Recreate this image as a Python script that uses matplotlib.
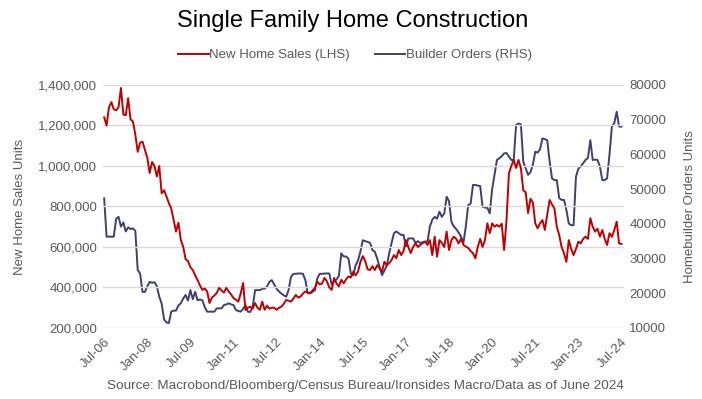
import matplotlib
matplotlib.use("Agg")
import matplotlib.pyplot as plt
from matplotlib.ticker import FuncFormatter, FixedLocator

plt.rcParams['font.family'] = ['Liberation Sans', 'DejaVu Sans']

# Months since Jul-2006 (monthly data)
months = list(range(0, 217))

# New Home Sales (LHS), thousands of units
sales_k = [
    1240, 1200, 1290, 1315, 1280, 1275, 1290, 1385, 1255, 1250, 1335, 1230,
    1220, 1155, 1070, 1115, 1120, 1080, 1040, 965, 1020, 1000, 948, 1000,
    865, 880, 850, 817, 790, 733, 676, 720, 635, 600, 540, 530,
    500, 486, 460, 437, 410, 388, 395, 380, 323, 350, 360, 373,
    398, 385, 375, 398, 380, 365, 348, 340, 330, 370, 422, 289,
    300, 305, 295, 323, 300, 290, 330, 290, 310, 295, 300, 300,
    290, 300, 305, 320, 338, 335, 330, 345, 363, 350, 355, 370,
    380, 375, 372, 385, 397, 429, 415, 420, 447, 430, 400, 388,
    447, 420, 405, 438, 420, 440, 454, 450, 478, 460, 478, 527,
    555, 530, 490, 486, 505, 486, 510, 495, 478, 527, 510, 520,
    536, 560, 545, 585, 560, 580, 634, 600, 570, 600, 618, 600,
    610, 620, 626, 610, 634, 560, 651, 552, 634, 620, 600, 676,
    585, 634, 651, 640, 618, 640, 610, 602, 595, 580, 569, 544,
    600, 640, 600, 634, 717, 668, 717, 700, 709, 700, 715, 585,
    733, 964, 1000, 1030, 990, 1030, 990, 880, 870, 767, 838, 820,
    717, 692, 717, 733, 684, 760, 832, 810, 790, 700, 659, 600,
    569, 527, 634, 590, 560, 590, 626, 618, 640, 651, 640, 742,
    700, 676, 690, 651, 684, 640, 610, 668, 650, 684, 725, 618,
    615,
]

# Builder Orders (RHS), units
orders = [
    47350, 36300, 36300, 36300, 36300, 41500, 42000, 39200, 40400, 37800, 39000, 38500,
    38700, 38000, 26700, 25700, 20400, 20400, 22000, 23300, 23000, 23200, 22000, 19000,
    17000, 12500, 11600, 11400, 14700, 15000, 15000, 16500, 17100, 18500, 19500, 17900,
    20900, 18300, 20400, 18000, 18200, 18000, 16000, 14700, 14700, 14700, 14700, 15650,
    15650, 15650, 16600, 16800, 17100, 16800, 16600, 15160, 14900, 14700, 15500, 16600,
    14700, 14600, 16000, 20900, 20900, 20900, 21300, 21300, 22000, 23300, 23800, 22500,
    21300, 20500, 19900, 19400, 19000, 20900, 24700, 25600, 25600, 25700, 25700, 25600,
    23800, 20000, 20000, 20400, 20900, 24300, 25600, 25600, 25700, 25700, 25700, 22500,
    23500, 24000, 25000, 31500, 30600, 30600, 30000, 25700, 25200, 28100, 29500, 32000,
    35300, 35000, 34800, 34500, 32400, 32000, 30000, 27650, 25200, 26500, 28000, 31500,
    34500, 37300, 37800, 37300, 36800, 36800, 33400, 35800, 35800, 35800, 34500, 35000,
    34500, 34700, 34900, 34900, 39200, 41200, 42000, 41500, 43500, 42000, 43000, 47800,
    46500, 40600, 39200, 38500, 37500, 36300, 34500, 39200, 45400, 45800, 51200, 51200,
    51000, 50900, 44900, 44700, 44600, 43000, 50000, 54300, 58400, 58900, 59500, 60300,
    60400, 59400, 58400, 58400, 68500, 68900, 68700, 57900, 56000, 54100, 54900, 57000,
    60800, 60500, 61500, 64600, 64400, 64100, 58000, 53100, 52600, 52600, 47400, 46900,
    46900, 44000, 40100, 39600, 39600, 53600, 55900, 56500, 57500, 58400, 59000, 64100,
    58400, 58500, 58400, 56500, 52600, 52600, 53100, 60000, 68000, 69000, 72300, 68000,
    68000,
]

tick_months = [0, 18, 36, 54, 72, 90, 108, 126, 144, 162, 180, 198, 216]
tick_labels = ["Jul-06", "Jan-08", "Jul-09", "Jan-11", "Jul-12", "Jan-14", "Jul-15",
               "Jan-17", "Jul-18", "Jan-20", "Jul-21", "Jan-23", "Jul-24"]
left_ticks = [200000, 400000, 600000, 800000, 1000000, 1200000, 1400000]
right_ticks = [10000, 20000, 30000, 40000, 50000, 60000, 70000, 80000]

RED = "#C00000"
BLUE = "#3C4170"
GREY_TXT = "#595959"
GRID = "#D9D9D9"

fig = plt.figure(figsize=(7.02, 3.99), dpi=100)
ax = fig.add_axes([0.1467, 0.178, 0.742, 0.609])
ax2 = ax.twinx()

sales = [v * 1000 for v in sales_k]
l1, = ax.plot(months, sales, color=RED, lw=1.4, zorder=3)
l2, = ax2.plot(months, orders, color=BLUE, lw=1.4, zorder=2)
ax.set_zorder(ax2.get_zorder() + 1)
ax.patch.set_visible(False)

ax.set_xlim(-0.5, 217)
ax.set_ylim(200000, 1400000)
ax2.set_ylim(10000, 80000)
ax.yaxis.set_major_locator(FixedLocator(left_ticks))
ax2.yaxis.set_major_locator(FixedLocator(right_ticks))
ax.yaxis.set_major_formatter(FuncFormatter(lambda v, p: f"{int(v):,}"))
ax2.yaxis.set_major_formatter(FuncFormatter(lambda v, p: f"{int(v)}"))

ax.set_xticks(tick_months)
ax.set_xticklabels(tick_labels, rotation=45, ha="right", rotation_mode="anchor")

for a in (ax, ax2):
    for s in a.spines.values():
        s.set_visible(False)
    a.tick_params(length=0, colors=GREY_TXT, labelsize=9.5)
ax.tick_params(axis="x", pad=6)
ax.tick_params(axis="y", pad=4)
ax2.tick_params(axis="y", pad=4)

ax2.grid(False)
ax.grid(False)
for v in left_ticks:
    ax.axhline(v, color=GRID, lw=1.0, zorder=0)

ax.set_ylabel("New Home Sales Units", color=GREY_TXT, fontsize=9.5, labelpad=9)
ax2.set_ylabel("Homebuilder Orders Units", color=GREY_TXT, fontsize=9.5, labelpad=13)

fig.text(0.502, 0.948, "Single Family Home Construction", ha="center", va="center",
         fontsize=17, color="black")
fig.legend([l1, l2], ["New Home Sales (LHS)", "Builder Orders (RHS)"],
           loc="center", bbox_to_anchor=(0.506, 0.862), ncol=2, frameon=False,
           fontsize=9.5, labelcolor=GREY_TXT, handlelength=2.3, handletextpad=0.05,
           columnspacing=1.9)
fig.text(0.52, 0.032, "Source: Macrobond/Bloomberg/Census Bureau/Ironsides Macro/Data as of June 2024",
         ha="center", va="center", fontsize=9.7, color=GREY_TXT)

fig.savefig("out.png", dpi=100)
